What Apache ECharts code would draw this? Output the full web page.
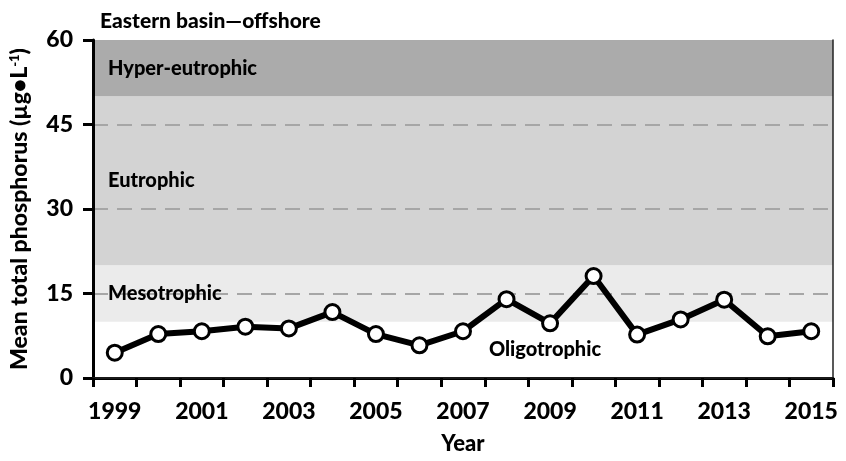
<!DOCTYPE html>
<html>
<head>
<meta charset="utf-8">
<script src="https://cdn.jsdelivr.net/npm/echarts@6/dist/echarts.min.js"></script>
<style>
  html, body { margin: 0; padding: 0; background: #fff; }
  #chart { width: 846px; height: 461px; }
</style>
</head>
<body>
<div id="chart"></div>
<script>
// 数据
const years = ['1999', '2000', '2001', '2002', '2003', '2004', '2005', '2006', '2007',
  '2008', '2009', '2010', '2011', '2012', '2013', '2014', '2015'];
const phosphorus = [4.5, 7.8, 8.3, 9.1, 8.8, 11.7, 7.8, 5.8, 8.3,
  14.0, 9.7, 18.1, 7.7, 10.4, 13.9, 7.4, 8.3];
const yTicks = { min: 0, max: 60, step: 15 };

// 营养状态分区
const bandNames = ['Oligotrophic', 'Mesotrophic', 'Eutrophic', 'Hyper-eutrophic'];
const bandEdges = [0, 10, 20, 50, 60];
const bandColors = ['#ffffff', '#ebebeb', '#d3d3d3', '#ababab'];

const FONT = 'Lato';
const WEIGHT = 900;
const BLACK = '#000';

const chart = echarts.init(document.getElementById('chart'));

// 背景色块
const bandAreas = bandNames.map((name, i) => [
  { yAxis: bandEdges[i], itemStyle: { color: bandColors[i] } },
  { yAxis: bandEdges[i + 1] }
]);

// 色块文字（单独一层，盖在虚线上面）
const bandLabels = bandNames.map((name, i) => [
  {
    yAxis: bandEdges[i],
    name: name,
    label: name === 'Oligotrophic'
      ? { position: 'inside', offset: [82, 0] }
      : { position: 'insideLeft', distance: 15 }
  },
  { yAxis: bandEdges[i + 1] }
]);

const option = {
  animation: false,
  backgroundColor: '#fff',
  title: {
    text: 'Eastern basin\u2014offshore',
    left: 95,
    top: 6,
    textStyle: { fontFamily: FONT, fontWeight: WEIGHT, fontSize: 21, color: BLACK }
  },
  grid: { left: 92, right: 13, top: 40, bottom: 83 },
  xAxis: [
    {
      type: 'category',
      data: years,
      boundaryGap: true,
      position: 'bottom',
      name: 'Year',
      nameLocation: 'middle',
      nameGap: 55,
      nameTextStyle: { fontFamily: FONT, fontWeight: WEIGHT, fontSize: 22, color: BLACK },
      axisLine: { lineStyle: { color: BLACK, width: 3 } },
      axisTick: { show: true, interval: 0, length: 9, lineStyle: { color: BLACK, width: 3 } },
      axisLabel: {
        interval: 1,
        margin: 22,
        fontFamily: FONT, fontWeight: WEIGHT, fontSize: 23, color: BLACK
      },
      splitLine: { show: false },
      z: 3
    },
    {
      type: 'category',
      data: years,
      position: 'top',
      axisLine: { lineStyle: { color: '#222', width: 1.5 } },
      axisTick: { show: false },
      axisLabel: { show: false },
      splitLine: { show: false },
      z: 3
    }
  ],
  yAxis: [
    {
      type: 'value',
      min: yTicks.min,
      max: yTicks.max,
      interval: yTicks.step,
      position: 'left',
      name: '{a|Mean total phosphorus (\u00b5g\u2022L}{s|-1}{a|)}',
      nameLocation: 'middle',
      nameGap: 62,
      nameRotate: 90,
      nameTextStyle: {
        rich: {
          a: { fontFamily: FONT, fontWeight: WEIGHT, fontSize: 23, color: BLACK },
          s: { fontFamily: FONT, fontWeight: WEIGHT, fontSize: 13, color: BLACK, padding: [0, 0, 10, 0] }
        }
      },
      axisLine: { show: true, lineStyle: { color: BLACK, width: 3 } },
      axisTick: { show: true, length: 10, lineStyle: { color: BLACK, width: 3 } },
      axisLabel: { margin: 20, fontFamily: FONT, fontWeight: WEIGHT, fontSize: 23, color: BLACK },
      splitLine: {
        show: true,
        showMinLine: false,
        showMaxLine: false,
        lineStyle: { color: '#a6a6a6', width: 2, type: [15, 9] }
      },
      z: 1.5
    },
    {
      type: 'value',
      min: yTicks.min,
      max: yTicks.max,
      position: 'right',
      axisLine: { show: true, lineStyle: { color: '#222', width: 1.5 } },
      axisTick: { show: false },
      axisLabel: { show: false },
      splitLine: { show: false },
      z: 3
    }
  ],
  series: [
    {
      name: 'bands',
      type: 'line',
      data: [],
      silent: true,
      markArea: {
        silent: true,
        label: { show: false },
        data: bandAreas
      }
    },
    {
      name: 'bandLabels',
      type: 'line',
      data: [],
      silent: true,
      z: 3,
      markArea: {
        silent: true,
        z: 3,
        itemStyle: { color: 'rgba(0,0,0,0)' },
        label: {
          show: true,
          fontFamily: FONT, fontWeight: WEIGHT, fontSize: 20, color: BLACK
        },
        data: bandLabels
      }
    },
    {
      name: 'TP',
      type: 'line',
      data: phosphorus,
      z: 4,
      symbol: 'circle',
      symbolSize: 15,
      lineStyle: { color: BLACK, width: 6 },
      itemStyle: { color: '#fff', borderColor: BLACK, borderWidth: 3 }
    }
  ]
};

chart.setOption(option);
</script>
</body>
</html>
